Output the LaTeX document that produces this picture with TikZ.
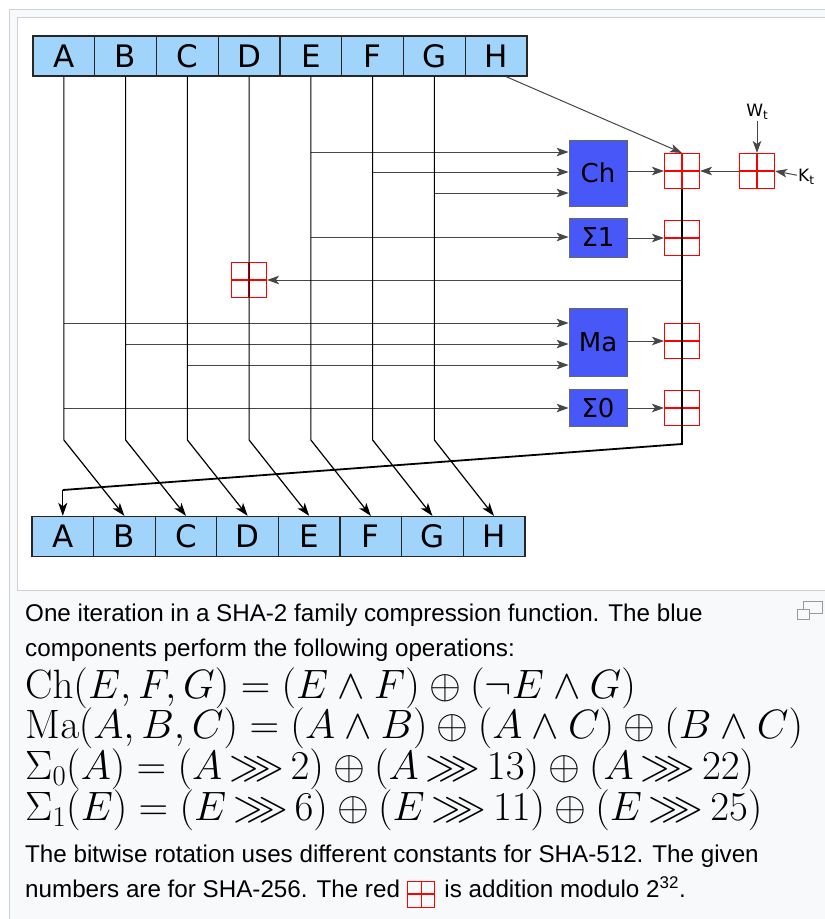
\RequirePackage{fix-cm}
\documentclass[tikz,border=0pt]{standalone}
\usepackage{amsmath,amssymb}
\usepackage[no-math]{fontspec}
\usetikzlibrary{arrows.meta,positioning}
\newfontfamily\dejavu{DejaVu Sans}
\newfontfamily\capfont{Liberation Sans}
\definecolor{regblue}{RGB}{160,212,251}
\definecolor{boxblue}{RGB}{72,88,248}
\definecolor{frameline}{RGB}{205,208,212}
\definecolor{capback}{RGB}{248,249,250}
\definecolor{wiregray}{RGB}{70,70,70}
\newcommand{\rotr}{\,{\ggg}\,}
\tikzset{
  regcell/.style={draw=black!85, line width=1.3pt, fill=regblue, minimum width=61.7pt,
    minimum height=40pt, inner sep=0pt, font=\dejavu\fontsize{31}{31}\selectfont},
  opbox/.style={draw=black!60, line width=0.8pt, fill=boxblue, minimum width=58pt,
    inner sep=0pt, font=\dejavu\fontsize{26}{26}\selectfont},
  adder/.style={draw=red, line width=1.1pt, minimum width=35pt, minimum height=35pt, inner sep=0pt,
    path picture={\draw[red, line width=1.1pt]
      (path picture bounding box.north) -- (path picture bounding box.south)
      (path picture bounding box.west) -- (path picture bounding box.east);}},
  feed/.style={wiregray, line width=1pt, -{Stealth[length=12pt,width=8.5pt,inset=3pt]}},
  passon/.style={black, line width=1.2pt, -{Stealth[length=13pt,width=9pt,inset=3.5pt]}},
  bus/.style={black, line width=1.8pt},
  captext/.style={anchor=base west, inner sep=0pt, font=\capfont\fontsize{24.2}{29}\selectfont},
  mathline/.style={anchor=base west, inner sep=0pt, font=\fontsize{41}{42}\selectfont}
}
\begin{document}
\begin{tikzpicture}[x=1pt,y=-1pt]
\useasboundingbox (0,0) rectangle (825,919);
\clip (0,0) rectangle (825,919);
\fill[white] (0,0) rectangle (825,919);
\draw[frameline, fill=capback] (9.5,9.5) rectangle (860,960);
\draw[frameline, fill=white] (17.5,17.5) rectangle (860,590);

% registers before and after the round
\foreach \r [count=\i from 0] in {A,B,C,D,E,F,G,H} {
  \node[regcell] (t\r) at ({33+61.75*(\i+0.5)},56) {\r};
  \node[regcell] (b\r) at ({32+61.6*(\i+0.5)},536.5) {\r};
}

% blue components
\node[opbox, minimum height=66pt] (Ch) at (598,173) {Ch};
\node[opbox, minimum height=39pt] (Sig1) at (598,237.5) {Σ1};
\node[opbox, minimum height=68pt] (Ma) at (598,342) {Ma};
\node[opbox, minimum height=37pt] (Sig0) at (598,408) {Σ0};

% adders
\node[adder] (add1) at (682,171) {};
\node[adder] (add2) at (682,238) {};
\node[adder] (add3) at (682,341) {};
\node[adder] (add4) at (682,408) {};
\node[adder] (addD) at (249,280) {};
\node[adder] (addWK) at (757,171) {};
\node[font=\dejavu\fontsize{17}{17}\selectfont, inner sep=1pt] (Wt) at (757,112)
  {W\raisebox{-3pt}{\fontsize{12}{12}\selectfont t}};
\node[font=\dejavu\fontsize{17}{17}\selectfont, inner sep=1pt, anchor=west] (Kt) at (797,177)
  {K\raisebox{-3pt}{\fontsize{12}{12}\selectfont t}};

% inputs of the blue components
\draw[feed] (tE.south |- 0,152) -- (Ch.west |- 0,152);
\draw[feed] (tF.south |- 0,172) -- (Ch.west |- 0,172);
\draw[feed] (tG.south |- 0,193) -- (Ch.west |- 0,193);
\draw[feed] (tE.south |- 0,237) -- (Sig1.west |- 0,237);
\draw[feed] (tA.south |- 0,323) -- (Ma.west |- 0,323);
\draw[feed] (tB.south |- 0,344) -- (Ma.west |- 0,344);
\draw[feed] (tC.south |- 0,365) -- (Ma.west |- 0,365);
\draw[feed] (tA.south |- 0,408) -- (Sig0.west |- 0,408);

% into the adders
\draw[feed] ([xshift=10pt]tH.south) -- (add1.north);
\draw[feed] (Wt) -- (addWK.north);
\draw[feed] (Kt) -- (addWK.east);
\draw[feed] (addWK) -- (add1.east);
\draw[feed] (Ch.east |- add1) -- (add1.west);
\draw[feed] (Sig1.east |- add2) -- (add2.west);
\draw[feed] (Ma.east |- add3) -- (add3.west);
\draw[feed] (Sig0.east |- add4) -- (add4.west);
\draw[feed] (add2 |- 0,280) -- (addD.east);

% words moving one place on
\foreach \r/\s in {A/B,B/C,C/D,D/E,E/F,F/G,G/H}
  \draw[passon] (t\r.south) -- (t\r.south |- 0,440) -- (b\s.north);
\draw[bus] (add1.south) -- (add4 |- 0,444) -- (bA.north |- 0,490);
\draw[passon] (bA.north |- 0,490) -- (bA.north);

% enlarge icon
\draw[gray!80, line width=1pt] (803,601) rectangle (822,613);
\draw[gray!80, line width=1pt, fill=capback] (797,609) rectangle (809,619);

% caption
\node[captext] (cap1) at (25,621) {One iteration in a SHA-2 family compression function. The blue};
\node[captext] (cap2) at (25,656) {components perform the following operations:};
\node[mathline] (eqCh) at (25,698) {$\mathrm{Ch}(E,F,G)=(E\wedge F)\oplus(\neg E\wedge G)$};
\node[mathline] (eqMa) at (25,738) {$\mathrm{Ma}(A,B,C)=(A\wedge B)\oplus(A\wedge C)\oplus(B\wedge C)$};
\node[mathline] (eqS0) at (25,779) {$\Sigma_0(A)=(A\rotr 2)\oplus(A\rotr 13)\oplus(A\rotr 22)$};
\node[mathline] (eqS1) at (25,820) {$\Sigma_1(E)=(E\rotr 6)\oplus(E\rotr 11)\oplus(E\rotr 25)$};
\node[captext] (cap3) at (25,862) {The bitwise rotation uses different constants for SHA-512. The given};
\node[captext] (cap4) at (25,897) {numbers are for SHA-256. The red};
\node[adder, minimum width=27pt, minimum height=26pt, line width=1pt, anchor=west] (redkey)
  at ([xshift=7pt,yshift=3pt]cap4.base east) {};
\node[captext] (cap5) at ([xshift=9pt]redkey.east |- cap4.base) {is addition modulo 2\textsuperscript{32}.};
\end{tikzpicture}
\end{document}
